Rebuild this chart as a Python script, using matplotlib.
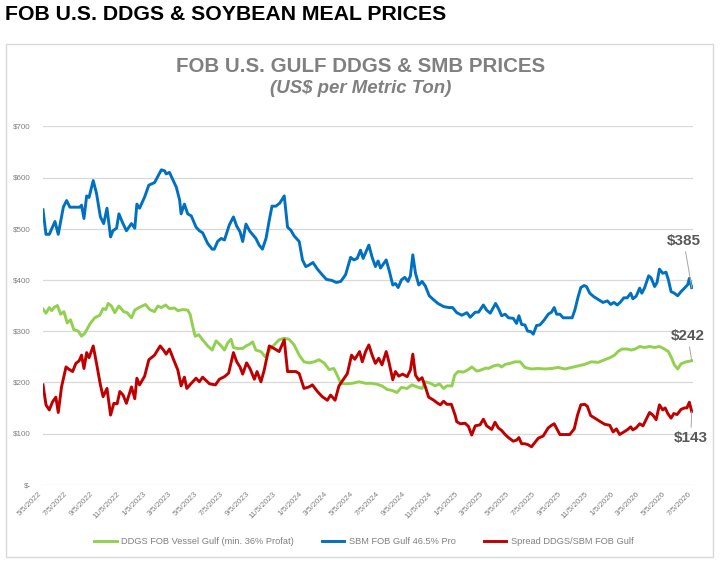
import numpy as np
import pandas as pd
import matplotlib
matplotlib.use("Agg")
import matplotlib.pyplot as plt
from matplotlib.patches import Rectangle
from matplotlib.ticker import FuncFormatter

plt.rcParams['font.family'] = ['Liberation Sans', 'DejaVu Sans']

# weekly series, x = weeks after 5/5/2022, y = US$ per metric ton
start = pd.Timestamp('2022-05-05')

sbm_pts = [
    (0, 537), (1.0, 489), (2.1, 489), (4.0, 514), (5.1, 489), (6.8, 542), (7.9, 555), (9.0, 542),
    (12.3, 542), (12.9, 546), (13.7, 520), (14.6, 564), (15.4, 561), (16.8, 594), (17.9, 569),
    (19.2, 523), (20.3, 510), (21.4, 540), (22.6, 484), (23.4, 496), (24.6, 501), (25.4, 529),
    (26.6, 512), (27.9, 496), (29.6, 510), (30.7, 501), (31.4, 548), (32.3, 540), (34.0, 562),
    (35.4, 585), (37.3, 590), (39.6, 615), (40.7, 613), (41.2, 607), (42.3, 610), (44.6, 581),
    (45.7, 556), (46.2, 529), (47.3, 548), (48.4, 529), (49.6, 525), (51.2, 503), (52.3, 496),
    (53.4, 492), (55.1, 471), (56.6, 460), (57.3, 460), (58.4, 475), (59.6, 481), (60.7, 478),
    (62.3, 507), (63.7, 523), (64.8, 505), (65.9, 494), (66.8, 475), (67.9, 509), (69.2, 495),
    (71.2, 481), (72.3, 468), (73.4, 460), (74.6, 481), (75.7, 517), (76.6, 544), (77.9, 544),
    (79.2, 550), (80.7, 564), (81.8, 503), (82.9, 497), (84.0, 486), (85.7, 475), (86.8, 439),
    (87.9, 426), (89.0, 429), (90.3, 434), (91.8, 421), (93.4, 410), (94.8, 401), (96.6, 399),
    (98.1, 395), (99.6, 397), (101.2, 410), (102.9, 444), (104.0, 439), (105.1, 442), (106.2, 458),
    (107.1, 442), (109.0, 468), (110.1, 444), (111.2, 426), (112.1, 437), (112.9, 423), (114.8, 439),
    (115.9, 416), (117.0, 390), (117.9, 393), (118.8, 385), (119.9, 400), (121.0, 405), (122.1, 397),
    (122.9, 408), (123.7, 449), (124.6, 413), (125.7, 390), (126.8, 397), (127.9, 388), (129.2, 369),
    (130.7, 361), (132.1, 354), (134.0, 348), (135.7, 346), (137.0, 346), (138.4, 336), (140.1, 331),
    (141.8, 336), (142.9, 327), (144.6, 337), (145.7, 337), (147.3, 351), (148.4, 341), (149.6, 335),
    (151.4, 354), (152.6, 341), (153.4, 330), (154.6, 333), (155.7, 326), (157.3, 325), (158.4, 315),
    (159.2, 330), (160.1, 313), (161.2, 312), (162.1, 300), (163.2, 299), (164.0, 294), (165.1, 311),
    (166.2, 312), (167.7, 322), (169.0, 333), (170.1, 337), (171.0, 346), (171.8, 333), (172.9, 333),
    (174.0, 326), (175.4, 326), (177.0, 326), (177.9, 341), (179.0, 367), (179.9, 385), (181.0, 389),
    (181.8, 387), (182.9, 374), (184.3, 367), (185.9, 361), (187.3, 356), (188.8, 359), (189.9, 352),
    (191.0, 356), (192.1, 351), (193.2, 357), (194.3, 365), (195.4, 365), (196.6, 374), (197.3, 363),
    (198.4, 368), (199.6, 384), (200.3, 374), (201.2, 384), (202.6, 408), (203.4, 404), (204.6, 387),
    (205.4, 395), (206.2, 421), (207.3, 413), (208.4, 415), (209.2, 400), (210.1, 377), (211.2, 374),
    (212.3, 369), (213.4, 377), (214.6, 384), (215.7, 391), (216.2, 403), (217.0, 385),
]

ddgs_pts = [
    (0, 343), (1.0, 335), (2.1, 346), (2.9, 340), (3.7, 346), (4.8, 350), (5.9, 333), (7.0, 338),
    (8.1, 316), (9.2, 322), (10.3, 303), (11.8, 300), (12.9, 290), (14.0, 296), (15.7, 314),
    (17.3, 326), (19.0, 331), (20.1, 344), (21.0, 342), (21.8, 354), (22.9, 349), (24.0, 336),
    (25.4, 349), (27.0, 338), (28.1, 336), (29.6, 326), (30.7, 341), (32.1, 346), (34.3, 352),
    (35.7, 342), (37.3, 338), (38.4, 349), (39.6, 346), (41.0, 351), (42.3, 344), (44.0, 345),
    (45.1, 340), (46.8, 342), (48.4, 341), (49.2, 333), (50.1, 309), (50.9, 290), (52.1, 293),
    (53.4, 283), (55.1, 271), (56.6, 263), (57.9, 281), (59.6, 271), (60.7, 263), (61.8, 277),
    (62.9, 284), (63.7, 268), (65.1, 266), (66.8, 266), (67.9, 271), (69.0, 274), (70.1, 279),
    (71.2, 263), (72.9, 260), (74.3, 250), (75.7, 262), (77.3, 273), (79.0, 283), (80.7, 286),
    (82.3, 284), (84.0, 273), (85.7, 253), (87.3, 240), (89.0, 238), (90.7, 240), (92.3, 244),
    (94.0, 238), (95.7, 225), (97.3, 227), (98.4, 214), (99.6, 198), (101.2, 197), (103.4, 198),
    (105.7, 201), (107.9, 198), (109.9, 198), (111.8, 196), (113.4, 193), (115.1, 186), (116.8, 184),
    (118.4, 180), (119.9, 190), (121.8, 188), (123.4, 195), (125.1, 191), (126.8, 188), (127.9, 201),
    (129.6, 198), (131.2, 193), (132.6, 197), (134.0, 188), (135.1, 193), (136.8, 193), (137.7, 214),
    (138.8, 221), (140.7, 220), (142.3, 225), (143.4, 230), (145.1, 222), (146.0, 223), (147.3, 226),
    (148.2, 228), (149.0, 227), (150.7, 232), (152.3, 234), (153.4, 230), (154.6, 235), (156.2, 237),
    (157.9, 240), (159.6, 240), (161.2, 229), (163.4, 226), (165.7, 227), (167.9, 226), (170.1, 227),
    (172.3, 229), (174.6, 226), (176.8, 229), (179.0, 232), (181.2, 235), (183.4, 240), (185.7, 239),
    (187.9, 244), (189.6, 248), (191.2, 253), (192.3, 260), (193.7, 265), (195.4, 265), (196.8, 263),
    (198.1, 265), (199.6, 270), (201.2, 268), (202.9, 270), (204.6, 268), (206.2, 270), (207.9, 265),
    (209.2, 260), (210.3, 247), (211.2, 234), (212.3, 226), (213.4, 236), (215.1, 240), (217.0, 242),
]

spread_pts = [
    (0, 195), (1.0, 156), (2.1, 146), (3.2, 162), (4.3, 171), (5.1, 141), (6.2, 191), (7.7, 230),
    (8.8, 225), (9.9, 221), (11.0, 237), (12.1, 242), (12.9, 253), (13.7, 227), (14.6, 258),
    (15.4, 248), (16.8, 271), (17.9, 237), (19.2, 195), (20.1, 172), (21.4, 188), (22.6, 136),
    (23.7, 159), (24.8, 158), (25.7, 182), (26.8, 175), (27.9, 159), (29.6, 191), (30.7, 168),
    (31.4, 208), (32.3, 195), (34.0, 212), (35.4, 244), (37.3, 253), (39.2, 271), (40.3, 263),
    (41.2, 255), (42.3, 265), (43.7, 244), (45.1, 224), (46.2, 193), (47.3, 210), (48.1, 188),
    (49.6, 198), (51.2, 208), (52.3, 201), (53.4, 210), (55.7, 197), (57.7, 195), (59.0, 206),
    (60.7, 211), (62.1, 218), (63.7, 258), (64.8, 240), (65.9, 230), (66.8, 216), (68.1, 238),
    (69.3, 226), (70.7, 206), (71.6, 221), (72.9, 201), (74.0, 224), (75.7, 271), (77.3, 266),
    (79.0, 260), (80.7, 283), (81.8, 221), (82.9, 221), (84.6, 221), (85.7, 217), (87.3, 188),
    (89.0, 191), (90.1, 195), (91.8, 182), (93.4, 172), (95.1, 165), (96.2, 175), (97.7, 165),
    (99.0, 193), (100.3, 204), (101.8, 217), (103.2, 253), (104.3, 245), (105.9, 260), (106.8, 240),
    (107.9, 260), (109.0, 273), (110.1, 253), (111.2, 237), (112.3, 247), (113.4, 234), (114.8, 260),
    (115.7, 240), (117.0, 205), (117.9, 221), (119.0, 212), (120.3, 216), (121.8, 211), (122.9, 224),
    (123.7, 255), (124.6, 214), (125.7, 204), (126.8, 209), (127.9, 191), (129.0, 171), (130.7, 165),
    (131.8, 160), (132.9, 156), (134.0, 163), (135.1, 157), (136.6, 157), (137.9, 135), (138.4, 123),
    (139.6, 119), (141.2, 120), (142.3, 114), (143.4, 97), (144.6, 115), (146.2, 117), (147.3, 128),
    (148.4, 115), (150.1, 108), (151.2, 122), (152.3, 111), (153.4, 106), (154.6, 98), (155.7, 92),
    (157.3, 85), (158.4, 87), (159.2, 92), (160.1, 80), (161.2, 80), (162.3, 78), (163.4, 74),
    (164.6, 83), (165.7, 91), (167.3, 95), (169.0, 111), (170.1, 116), (171.0, 119), (171.8, 110),
    (172.9, 98), (174.6, 98), (176.2, 98), (177.7, 109), (178.8, 136), (179.9, 156), (181.2, 157),
    (182.1, 153), (183.2, 135), (184.6, 130), (186.2, 124), (187.9, 118), (189.6, 116), (190.7, 103),
    (191.8, 109), (192.9, 98), (194.0, 102), (195.4, 107), (196.6, 113), (197.3, 107), (198.4, 111),
    (199.6, 119), (200.7, 115), (201.8, 128), (202.9, 141), (204.0, 136), (205.1, 127), (206.2, 156),
    (207.3, 146), (208.1, 150), (209.0, 139), (210.1, 130), (211.0, 139), (212.1, 137), (213.4, 147),
    (214.6, 150), (215.4, 150), (216.2, 161), (217.0, 143),
]

labels = ['DDGS FOB Vessel Gulf (min. 36% Profat)', 'SBM FOB Gulf 46.5% Pro', 'Spread DDGS/SBM FOB Gulf']
colors = ['#92d050', '#0070c0', '#c00000']
# (text offset in pixels from last point) for the end value callouts
callout_offsets = [(-4, 25), (-8, 47), (-1, -27)]

series = [ddgs_pts, sbm_pts, spread_pts]


def to_dates(weeks):
    return start + pd.to_timedelta(np.asarray(weeks) * 7, unit='D')


fig = plt.figure(figsize=(7.2, 5.68), dpi=100)
ax = fig.add_axes([43 / 720, 1 - 484.7 / 568, 650 / 720, 358.4 / 568])

# outer chart frame
fig.patches.append(Rectangle((6 / 720, 1 - 557 / 568), 707 / 720, 513 / 568,
                             transform=fig.transFigure, fill=False,
                             edgecolor='#d9d9d9', lw=1.0))

handles = []
for pts, lab, col, off in zip(series, labels, colors, callout_offsets):
    w, v = zip(*pts)
    d = to_dates(w)
    h, = ax.plot(d, v, color=col, lw=2.1, label=lab, solid_joinstyle='round')
    handles.append(h)
    ax.annotate(f'${v[-1]:.0f}', xy=(d[-1], v[-1]), xytext=off,
                textcoords='offset pixels', ha='center', va='center',
                fontsize=11, fontweight='bold', color='#595959',
                annotation_clip=False,
                arrowprops=dict(arrowstyle='-', color='#a6a6a6', lw=0.7,
                                shrinkA=1, shrinkB=0))

ax.set_ylim(0, 700)
ax.set_yticks(np.arange(0, 701, 100))
ax.yaxis.set_major_formatter(FuncFormatter(lambda y, _: f'${y:.0f}' if y else '$-'))
ax.grid(axis='y', color='#d9d9d9', lw=0.9)
ax.set_axisbelow(True)

tick_dates = [pd.Timestamp(2022 + (4 + 2 * i) // 12, (4 + 2 * i) % 12 + 1, 5) for i in range(26)]
ax.set_xticks(tick_dates)
ax.set_xticklabels([f'{t.month}/{t.day}/{t.year}' for t in tick_dates])
ax.set_xlim(start, pd.Timestamp('2026-07-05'))

for s in ax.spines.values():
    s.set_visible(False)
ax.tick_params(axis='both', length=0, colors='#808080', labelsize=5.8)
ax.tick_params(axis='y', pad=9)
ax.tick_params(axis='x', pad=4)
for t in ax.get_xticklabels():
    t.set_rotation(45)
    t.set_ha('right')
    t.set_va('top')

fig.text(5 / 720, 1 - 20 / 568, 'FOB U.S. DDGS & SOYBEAN MEAL PRICES',
         fontsize=15.3, fontweight='bold', color='black', va='baseline', ha='left')
fig.text(361 / 720, 1 - 71.7 / 568, 'FOB U.S. GULF DDGS & SMB PRICES',
         fontsize=14.8, fontweight='bold', color='#808080', va='baseline', ha='center')
fig.text(361 / 720, 1 - 93 / 568, '(US$ per Metric Ton)',
         fontsize=13.4, fontweight='bold', style='italic', color='#808080',
         va='baseline', ha='center')

leg = fig.legend(handles=handles, loc='center', bbox_to_anchor=(364 / 720, 1 - 542 / 568),
                 ncol=3, frameon=False, fontsize=6.7, handlelength=2.4,
                 columnspacing=3.0, handletextpad=0.5)
for t in leg.get_texts():
    t.set_color('#808080')

fig.savefig('out.png', dpi=100)
